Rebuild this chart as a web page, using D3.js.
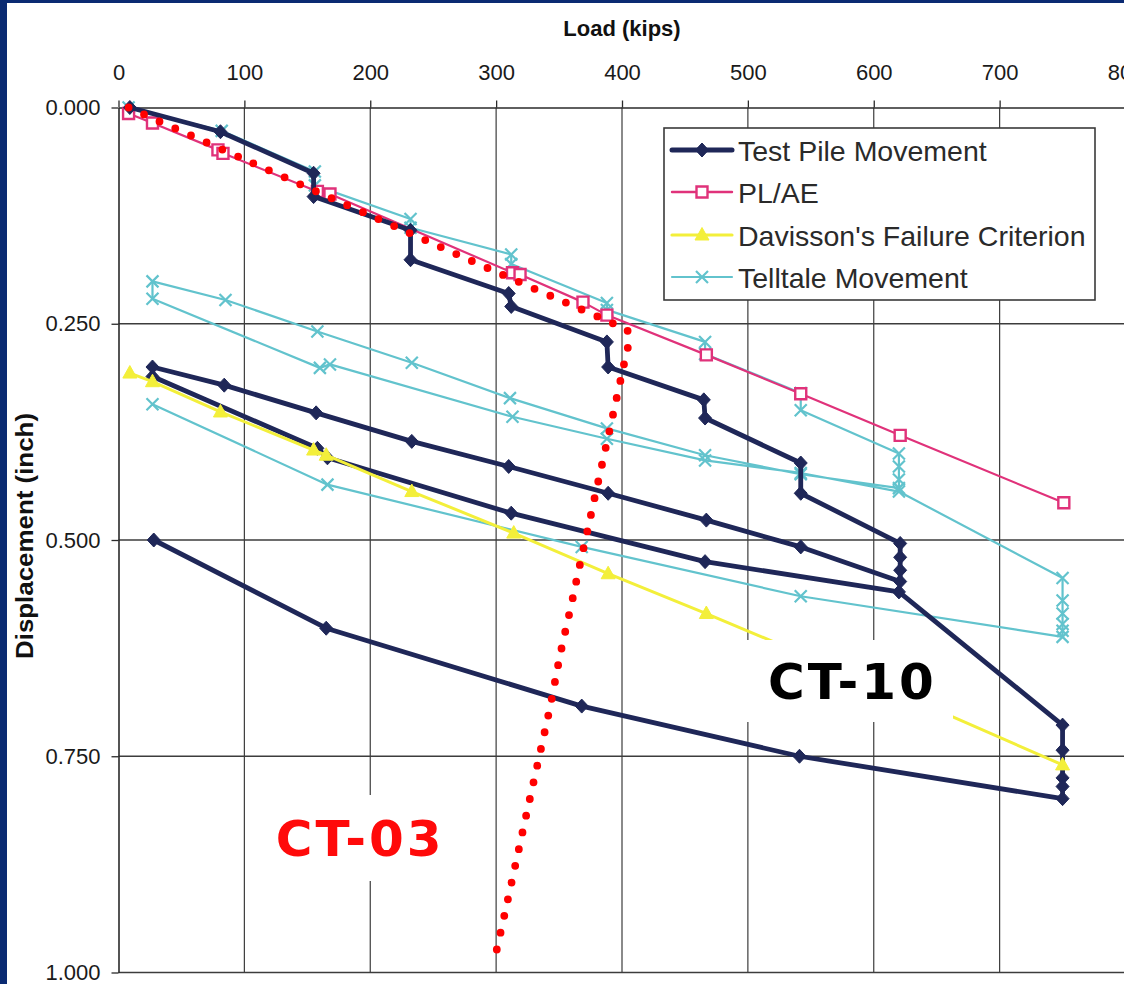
<!DOCTYPE html>
<html>
<head>
<meta charset="utf-8">
<script src="https://cdn.jsdelivr.net/npm/d3@7/dist/d3.min.js"></script>
<style>
  html, body { margin: 0; padding: 0; background: #0a2a72; }
  svg { display: block; }
</style>
</head>
<body>
<script>
// ---------- data ----------
const xTicks = [0, 100, 200, 300, 400, 500, 600, 700, 800];
const yTicks = [0, 0.25, 0.5, 0.75, 1.0];

const seriesNames = ["Test Pile Movement", "PL/AE", "Davisson's Failure Criterion", "Telltale Movement"];

// Test pile movement (load kips, displacement inch) in test order
const pileLoad = [9, 81, 155, 155, 232, 232, 310, 312, 388, 389, 465, 466, 542, 542, 621, 621, 621, 621,
                  542, 467, 389, 310, 233, 157, 84, 27, 27, 158, 166, 312, 466, 620,
                  750, 750, 750, 750, 750, 541, 368, 165, 28];
const pileDisp = [0.000, 0.028, 0.076, 0.103, 0.142, 0.176, 0.215, 0.230, 0.271, 0.300, 0.338, 0.359, 0.411, 0.446, 0.504, 0.520, 0.535, 0.548,
                  0.508, 0.477, 0.446, 0.415, 0.386, 0.353, 0.321, 0.300, 0.311, 0.394, 0.405, 0.469, 0.525, 0.560,
                  0.714, 0.743, 0.775, 0.785, 0.799, 0.750, 0.692, 0.602, 0.500];

// PL/AE elastic line
const plLoad = [8, 27, 79, 83, 158, 168, 313, 319, 369, 388, 467, 542, 621, 751];
const plDisp = [0.007, 0.018, 0.049, 0.053, 0.097, 0.100, 0.191, 0.193, 0.225, 0.240, 0.286, 0.331, 0.379, 0.457];

// Davisson's failure criterion
const dvLoad = [9, 27, 81, 155, 165, 233, 314, 389, 467, 542, 621, 750];
const dvDisp = [0.307, 0.317, 0.352, 0.396, 0.402, 0.444, 0.492, 0.539, 0.585, 0.631, 0.678, 0.760];

// Telltale movement
const ttLoad = [8, 82, 156, 156, 232, 232, 312, 312, 388, 388, 466, 466, 542, 542, 620, 620, 620, 620,
                542, 466, 388, 311, 233, 158, 85, 27, 27, 160, 168, 313, 388, 466, 542, 620,
                750, 750, 750, 750, 750, 750, 542, 368, 166, 27];
const ttDisp = [0.000, 0.027, 0.074, 0.090, 0.129, 0.139, 0.170, 0.181, 0.226, 0.234, 0.271, 0.285, 0.330, 0.350, 0.400, 0.415, 0.430, 0.440,
                0.424, 0.402, 0.371, 0.336, 0.295, 0.259, 0.2225, 0.201, 0.221, 0.301, 0.297, 0.3575, 0.383, 0.408, 0.4225, 0.444,
                0.544, 0.570, 0.585, 0.597, 0.605, 0.612, 0.565, 0.508, 0.436, 0.343];

// hand-drawn red dotted annotation (CT-03)
const redLoad = [8, 100, 208, 300, 395, 404, 405, 402, 390, 378, 372, 366, 360, 351, 343, 334, 325, 316, 307, 298];
const redDisp = [0.000, 0.060, 0.130, 0.190, 0.251, 0.257, 0.273, 0.294, 0.374, 0.453, 0.493, 0.532, 0.573, 0.632, 0.692, 0.752, 0.811, 0.871, 0.931, 0.990];

const labels = [
  {text: "CT-03", load: 125, disp: 0.865, color: "#ff0a0a", box: [262, 795, 190, 86]},
  {text: "CT-10", load: 516, disp: 0.684, color: "#000000", box: [747, 640, 206, 82]}
];

// ---------- drawing ----------
const W = 1124, H = 984;
const svg = d3.select("body").append("svg").attr("width", W).attr("height", H);

svg.append("rect").attr("width", W).attr("height", H).attr("fill", "#0a2a72");
svg.append("rect").attr("x", 7).attr("y", 3).attr("width", W - 7).attr("height", H - 3).attr("fill", "#ffffff");

const x = d3.scaleLinear().domain([0, 800]).range([118.5, 1125.5]);
const y = d3.scaleLinear().domain([0, 1]).range([107.5, 972.5]);

const gridColor = "#3c3c3c";
const font = "'Liberation Sans', Arial, sans-serif";

// grid
const grid = svg.append("g");
grid.selectAll("line.v").data(xTicks.filter(d => d > 0)).join("line")
  .attr("x1", d => x(d)).attr("x2", d => x(d)).attr("y1", y(0)).attr("y2", y(1))
  .attr("stroke", gridColor).attr("stroke-width", 1.2);
grid.selectAll("line.h").data(yTicks.filter(d => d > 0)).join("line")
  .attr("x1", x(0)).attr("x2", x(800)).attr("y1", d => y(d)).attr("y2", d => y(d))
  .attr("stroke", gridColor).attr("stroke-width", 1.4);

// axes
const xAxis = svg.append("g").attr("transform", `translate(0,${y(0)})`)
  .call(d3.axisTop(x).tickValues(xTicks).tickFormat(d3.format("d")).tickSize(7).tickPadding(21).tickSizeOuter(0));
const yAxis = svg.append("g").attr("transform", `translate(${x(0)},0)`)
  .call(d3.axisLeft(y).tickValues(yTicks).tickFormat(d3.format(".3f")).tickSize(7).tickPadding(11).tickSizeOuter(0));
[xAxis, yAxis].forEach(a => {
  a.select(".domain").attr("stroke", "#2a2a2a").attr("stroke-width", 1.6);
  a.selectAll(".tick line").attr("stroke", "#2a2a2a").attr("stroke-width", 1.3);
  a.selectAll(".tick text").attr("fill", "#1a1a1a").style("font-family", font).style("font-size", "22px");
});

svg.append("text").attr("x", x(400)).attr("y", 36).attr("text-anchor", "middle")
  .style("font-family", font).style("font-size", "22px").style("font-weight", "bold").attr("fill", "#111")
  .text("Load (kips)");
svg.append("text").attr("transform", `translate(33,${536}) rotate(-90)`).attr("text-anchor", "middle")
  .attr("textLength", 246).attr("lengthAdjust", "spacingAndGlyphs")
  .style("font-family", font).style("font-size", "23px").style("font-weight", "bold").attr("fill", "#111")
  .text("Displacement (inch)");

// series
const zip = (a, b) => a.map((v, i) => [v, b[i]]);
const line = d3.line().x(d => x(d[0])).y(d => y(d[1]));

const cols = {pile: "#1f2758", pl: "#e0327a", dv: "#f3ef3a", tt: "#62c3cd"};

const diamond = "M0,-7L6.5,0L0,7L-6.5,0Z";
const tri = "M0,-7.5L7,5L-7,5Z";
const xMark = "M-6,-6L6,6M6,-6L-6,6";
const sq = "M-5.5,-5.5H5.5V5.5H-5.5Z";

function drawSeries(g, pts, color, width, marker, mFill, mStroke, mWidth) {
  g.append("path").datum(pts).attr("d", line).attr("fill", "none")
    .attr("stroke", color).attr("stroke-width", width).attr("stroke-linejoin", "round");
  g.selectAll("path.m").data(pts).join("path").attr("class", "m")
    .attr("transform", d => `translate(${x(d[0])},${y(d[1])})`).attr("d", marker)
    .attr("fill", mFill).attr("stroke", mStroke).attr("stroke-width", mWidth);
}

const plot = svg.append("g");
drawSeries(plot.append("g"), zip(ttLoad, ttDisp), cols.tt, 2.2, xMark, "none", cols.tt, 2.2);
drawSeries(plot.append("g"), zip(plLoad, plDisp), cols.pl, 2.2, sq, "#ffffff", cols.pl, 2.4);
drawSeries(plot.append("g"), zip(pileLoad, pileDisp), cols.pile, 4.8, diamond, cols.pile, cols.pile, 1);
drawSeries(plot.append("g"), zip(dvLoad, dvDisp), cols.dv, 3, tri, cols.dv, cols.dv, 1);

// red dotted annotation
const redLine = d3.line().x(d => x(d[0])).y(d => y(d[1])).curve(d3.curveCatmullRom.alpha(0.5));
svg.append("path").datum(zip(redLoad, redDisp)).attr("d", redLine).attr("fill", "none")
  .attr("stroke", "#ff0000").attr("stroke-width", 7.8).attr("stroke-linecap", "round")
  .attr("stroke-dasharray", "0 17.1");

// label boxes
labels.forEach(l => {
  svg.append("rect").attr("x", l.box[0]).attr("y", l.box[1]).attr("width", l.box[2]).attr("height", l.box[3]).attr("fill", "#ffffff");
  svg.append("text").attr("x", x(l.load)).attr("y", y(l.disp))
    .style("font-family", "'DejaVu Sans', sans-serif").style("font-size", "50px").style("font-weight", "bold")
    .style("letter-spacing", "3px")
    .attr("fill", l.color).text(l.text);
});

// legend
const lg = svg.append("g");
lg.append("rect").attr("x", 664).attr("y", 128).attr("width", 431).attr("height", 172)
  .attr("fill", "#ffffff").attr("stroke", "#3a3a3a").attr("stroke-width", 1.6);
const legendDefs = [
  {name: seriesNames[0], color: cols.pile, w: 5, marker: diamond, fill: cols.pile, stroke: cols.pile, mw: 1},
  {name: seriesNames[1], color: cols.pl, w: 2.4, marker: sq, fill: "#ffffff", stroke: cols.pl, mw: 2.4},
  {name: seriesNames[2], color: cols.dv, w: 3.2, marker: tri, fill: cols.dv, stroke: cols.dv, mw: 1},
  {name: seriesNames[3], color: cols.tt, w: 2.2, marker: xMark, fill: "none", stroke: cols.tt, mw: 2.2}
];
const legY = [150, 192, 235, 277];
legendDefs.forEach((d, i) => {
  const yy = legY[i];
  lg.append("line").attr("x1", 672).attr("x2", 732).attr("y1", yy).attr("y2", yy)
    .attr("stroke", d.color).attr("stroke-width", d.w).attr("stroke-linecap", "round");
  lg.append("path").attr("transform", `translate(702,${yy})`).attr("d", d.marker)
    .attr("fill", d.fill).attr("stroke", d.stroke).attr("stroke-width", d.mw);
  lg.append("text").attr("x", 738).attr("y", yy + 11)
    .style("font-family", font).style("font-size", "28.5px").attr("fill", "#2a2a2a").text(d.name);
});
</script>
</body>
</html>
